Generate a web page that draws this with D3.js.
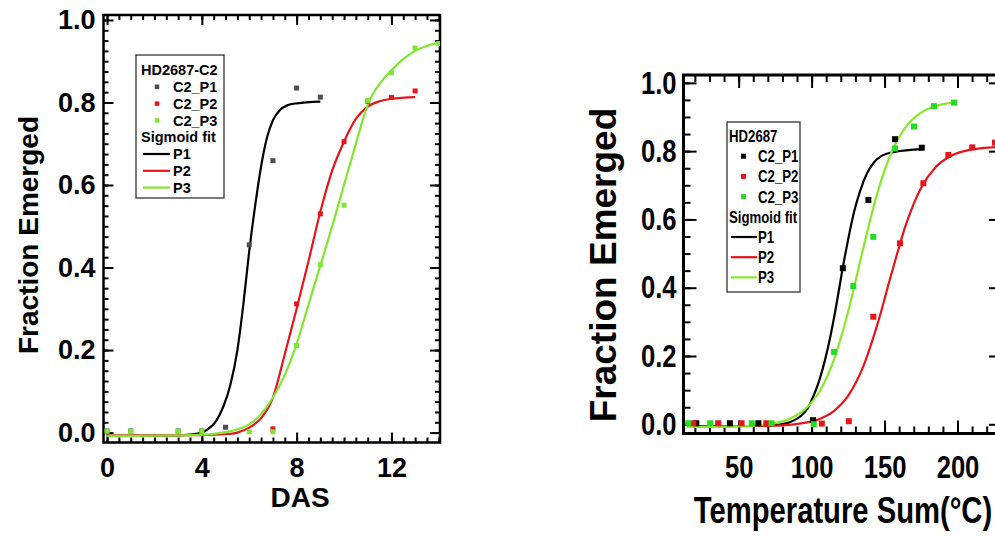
<!DOCTYPE html>
<html>
<head>
<meta charset="utf-8">
<script src="https://cdn.jsdelivr.net/npm/d3@7"></script>
<style>
  body { margin: 0; background: #fff; }
  svg { display: block; }
</style>
</head>
<body>
<svg id="chart" width="995" height="537"></svg>
<script>
// ---- left panel: fraction emerged vs days after sowing ----
const dasP1Pts = [[0,0.004],[1,0.004],[3,0.004],[4,0.004],[5,0.013],[6,0.455],[7,0.659],[8,0.835],[9,0.813]];
const dasP2Pts = [[7,0.009],[8,0.312],[9,0.53],[10,0.705],[11,0.803],[12,0.812],[13,0.828]];
const dasP3Pts = [[0,0.003],[1,0.003],[3,0.003],[4,0.003],[6,0.002],[7,0.002],[8,0.211],[9,0.407],[10,0.551],[11,0.805],[12,0.872],[13,0.932],[14,0.943]];

// sigmoid fit lines
const dasP1Fit = [[0,-0.008],[3,-0.007],[3.5,-0.005],[4,0.0],[4.3,0.01],[4.6,0.028],[4.9,0.062],[5.2,0.115],[5.5,0.2],[5.75,0.31],[6,0.44],[6.25,0.55],[6.5,0.645],[6.75,0.715],[7,0.757],[7.3,0.782],[7.6,0.793],[8,0.798],[9,0.802]];
const dasP2Fit = [[0,-0.007],[4,-0.006],[5,-0.004],[5.5,0.0],[6,0.012],[6.5,0.035],[7,0.085],[7.5,0.19],[8,0.3],[8.5,0.415],[9,0.535],[9.5,0.635],[10,0.705],[10.5,0.76],[11,0.79],[11.5,0.803],[12,0.809],[13,0.813]];
const dasP3Fit = [[0,-0.008],[3.5,-0.006],[4.5,-0.003],[5.5,0.008],[6,0.02],[6.5,0.045],[7,0.085],[7.5,0.14],[8,0.215],[8.5,0.31],[9,0.405],[9.5,0.5],[10,0.6],[10.5,0.7],[11,0.795],[11.5,0.845],[12,0.878],[12.5,0.905],[13,0.925],[13.5,0.937],[14,0.945]];

// ---- right panel: fraction emerged vs temperature sum ----
const tsP1Pts = [[21,0.003],[44,0.003],[63.5,0.003],[101,0.012],[121.4,0.457],[138.9,0.657],[157.2,0.835],[175.5,0.81]];
const tsP2Pts = [[19,0.003],[36,0.003],[52,0.003],[69,0.003],[107,0.002],[125.5,0.009],[142.3,0.315],[160.6,0.53],[176.6,0.706],[193.7,0.789],[210.1,0.811],[225.7,0.825]];
const tsP3Pts = [[15.5,0.003],[30.5,0.003],[59,0.003],[72.5,0.003],[101.5,0.0],[115.4,0.212],[128.6,0.405],[142.3,0.549],[157.2,0.808],[170.2,0.872],[183.9,0.932],[197.6,0.942]];

const tsP1Fit = [[15,-0.006],[60,-0.005],[75,-0.002],[85,0.006],[92,0.022],[97,0.045],[101,0.08],[105,0.125],[109,0.185],[113,0.26],[117,0.35],[121,0.45],[125,0.54],[129,0.62],[133,0.68],[138,0.735],[143,0.768],[148,0.786],[157,0.798],[175.5,0.806]];
const tsP2Fit = [[15,-0.006],[60,-0.005],[80,-0.003],[95,0.004],[105,0.015],[115,0.038],[125,0.083],[135,0.165],[145,0.291],[155,0.445],[165,0.589],[175,0.692],[185,0.753],[195,0.785],[210,0.805],[231,0.813]];
const tsP3Fit = [[15,-0.008],[50,-0.006],[70,0.0],[85,0.016],[95,0.042],[105,0.093],[115,0.186],[125,0.329],[135,0.508],[145,0.676],[155,0.799],[165,0.873],[175,0.913],[185,0.932],[197.6,0.943]];

// ticks and legend text
const dasMajorX = [0, 4, 8, 12];
const tsMajorX = [50, 100, 150, 200];
const fracMajorY = [0, 0.2, 0.4, 0.6, 0.8, 1.0];
const seriesNames = ['C2_P1', 'C2_P2', 'C2_P3'];
const fitNames = ['P1', 'P2', 'P3'];

const svg = d3.select('#chart');
const FONT = "'Liberation Sans', Arial, sans-serif";

// text helper: sq < 1 squeezes the glyphs horizontally (narrow face look)
const addText = (parent, x, y, str, sq, anchor) => parent.append('text')
  .attr('transform', `translate(${x},${y}) scale(${sq},1)`)
  .attr('text-anchor', anchor || 'start')
  .attr('dy', '0.36em')
  .text(str);

function drawPanel(p) {
  const x = d3.scaleLinear().domain(p.xDomain).range([p.left, p.right]);
  const y = d3.scaleLinear().domain(p.yDomain).range([p.bottom, p.top]);
  const g = svg.append('g');

  g.append('clipPath').attr('id', 'clip-' + p.id)
    .append('rect')
    .attr('x', p.left).attr('y', p.top)
    .attr('width', p.right - p.left).attr('height', p.bottom - p.top);

  const addAxis = (axisFn, scale, values, len, tr, fmt, pad) => {
    const a = g.append('g')
      .attr('transform', tr)
      .call(axisFn(scale).tickValues(values).tickSizeInner(-len).tickSizeOuter(0)
        .tickPadding(pad || 0).tickFormat(fmt || (() => '')));
    a.select('.domain').remove();
    a.selectAll('line').attr('stroke', '#000').attr('stroke-width', 2);
    a.attr('font-family', FONT).attr('font-weight', 'bold').attr('font-size', p.tickFont);
    if (fmt) {
      a.selectAll('text')
        .attr('fill', '#000')
        .attr('transform', `scale(${p.squeeze},1)`)
        .attr('x', function() { return +d3.select(this).attr('x') / p.squeeze; });
    }
    return a;
  };

  // minor ticks on all four sides
  addAxis(d3.axisBottom, x, p.minorX, p.minorLen, `translate(0,${p.bottom})`);
  addAxis(d3.axisTop, x, p.minorX, p.minorLen, `translate(0,${p.top})`);
  addAxis(d3.axisLeft, y, p.minorY, p.minorLen, `translate(${p.left},0)`);
  addAxis(d3.axisRight, y, p.minorY, p.minorLen, `translate(${p.right},0)`);
  // major ticks, labels at bottom and left
  addAxis(d3.axisBottom, x, p.majorX, p.majorLen, `translate(0,${p.bottom})`, d3.format('d'), p.xPad);
  addAxis(d3.axisTop, x, p.majorX, p.majorLen, `translate(0,${p.top})`);
  addAxis(d3.axisLeft, y, fracMajorY, p.majorLen, `translate(${p.left},0)`, d3.format('.1f'), p.yPad);
  addAxis(d3.axisRight, y, fracMajorY, p.majorLen, `translate(${p.right},0)`);

  g.append('rect')
    .attr('x', p.left).attr('y', p.top)
    .attr('width', p.right - p.left).attr('height', p.bottom - p.top)
    .attr('fill', 'none').attr('stroke', '#000').attr('stroke-width', p.frameW);

  const line = d3.line().x(d => x(d[0])).y(d => y(d[1])).curve(d3.curveMonotoneX);
  const plot = g.append('g').attr('clip-path', `url(#clip-${p.id})`);

  plot.selectAll('path.fit')
    .data(p.fits)
    .enter()
    .append('path')
    .attr('class', 'fit')
    .attr('d', d => line(d))
    .attr('fill', 'none')
    .attr('stroke', (d, i) => p.lineColors[i])
    .attr('stroke-width', 2.2);

  p.points.forEach((pts, i) => {
    plot.append('g').selectAll('rect')
      .data(pts)
      .enter()
      .append('rect')
      .attr('x', d => x(d[0]) - p.mark / 2)
      .attr('y', d => y(d[1]) - p.mark / 2)
      .attr('width', p.mark).attr('height', p.mark)
      .attr('fill', p.markColors[i]);
  });

  // axis titles
  const tg = g.append('g').attr('font-family', FONT).attr('font-weight', 'bold');
  addText(tg, p.xTitlePos[0], p.xTitlePos[1], p.xTitle, p.squeeze, 'middle')
    .attr('font-size', p.xTitleFont);
  tg.append('text')
    .attr('transform', `translate(${p.yTitlePos[0]},${p.yTitlePos[1]}) rotate(-90)`)
    .attr('text-anchor', 'middle')
    .attr('dy', '0.36em')
    .attr('font-size', p.yTitleFont)
    .text('Fraction Emerged');

  // legend
  const L = p.legend;
  const lg = g.append('g')
    .attr('font-family', FONT).attr('font-weight', 'bold').attr('font-size', L.font);
  lg.append('rect')
    .attr('x', L.box[0]).attr('y', L.box[1]).attr('width', L.box[2]).attr('height', L.box[3])
    .attr('fill', '#fff').attr('stroke', '#333').attr('stroke-width', 1.3);
  const rowY = i => L.y0 + i * L.dy;
  addText(lg, L.titleX, rowY(0), L.title, p.squeeze);
  seriesNames.forEach((name, i) => {
    lg.append('rect')
      .attr('x', L.markX - L.mark / 2).attr('y', rowY(i + 1) - L.mark / 2)
      .attr('width', L.mark).attr('height', L.mark).attr('fill', p.markColors[i]);
    addText(lg, L.textX, rowY(i + 1), name, p.squeeze);
  });
  addText(lg, L.titleX, rowY(4), 'Sigmoid fit', p.squeeze);
  fitNames.forEach((name, i) => {
    lg.append('line')
      .attr('x1', L.lineX[0]).attr('x2', L.lineX[1])
      .attr('y1', rowY(i + 5)).attr('y2', rowY(i + 5))
      .attr('stroke', p.lineColors[i]).attr('stroke-width', 2.2);
    addText(lg, L.textX, rowY(i + 5), name, p.squeeze);
  });
}

drawPanel({
  id: 'das',
  left: 103.5, right: 440, top: 15, bottom: 442.5,
  xDomain: [-0.15, 14.05], yDomain: [-0.024, 1.012],
  majorX: dasMajorX, minorX: d3.range(0, 14.01, 0.5), minorY: d3.range(0, 1.001, 0.025),
  majorLen: 10, minorLen: 5, frameW: 2.5,
  squeeze: 1, tickFont: 27, xPad: 15, yPad: 8,
  points: [dasP1Pts, dasP2Pts, dasP3Pts],
  fits: [dasP1Fit, dasP2Fit, dasP3Fit],
  markColors: ['#4d4d4d', '#e8141c', '#80e632'],
  lineColors: ['#000', '#e8141c', '#80e632'],
  mark: 5,
  xTitle: 'DAS', xTitlePos: [300, 497], xTitleFont: 28,
  yTitlePos: [28, 235], yTitleFont: 28,
  legend: { box: [136, 55, 88, 143], title: 'HD2687-C2', font: 14.5, y0: 70, dy: 16.8,
            titleX: 141, markX: 157, mark: 4.5, textX: 173, lineX: [143, 170] }
});

drawPanel({
  id: 'ts',
  left: 683.5, right: 1002, top: 75, bottom: 433.5,
  xDomain: [12.2, 230.5], yDomain: [-0.027, 1.023],
  majorX: tsMajorX, minorX: d3.range(20, 231, 10), minorY: d3.range(0, 1.001, 0.05),
  majorLen: 13, minorLen: 7, frameW: 3,
  squeeze: 0.8, tickFont: 32, xPad: 22, yPad: 7,
  points: [tsP1Pts, tsP2Pts, tsP3Pts],
  fits: [tsP1Fit, tsP2Fit, tsP3Fit],
  markColors: ['#000', '#e8141c', '#22dd22'],
  lineColors: ['#000', '#e8141c', '#88e82a'],
  mark: 6,
  xTitle: 'Temperature Sum(°C)', xTitlePos: [843, 510], xTitleFont: 36.5,
  yTitlePos: [603, 265], yTitleFont: 37,
  legend: { box: [727, 122, 73, 170], title: 'HD2687', font: 16.5, y0: 136, dy: 20.2,
            titleX: 729, markX: 743.5, mark: 5, textX: 758, lineX: [731, 757] }
});
</script>
</body>
</html>
